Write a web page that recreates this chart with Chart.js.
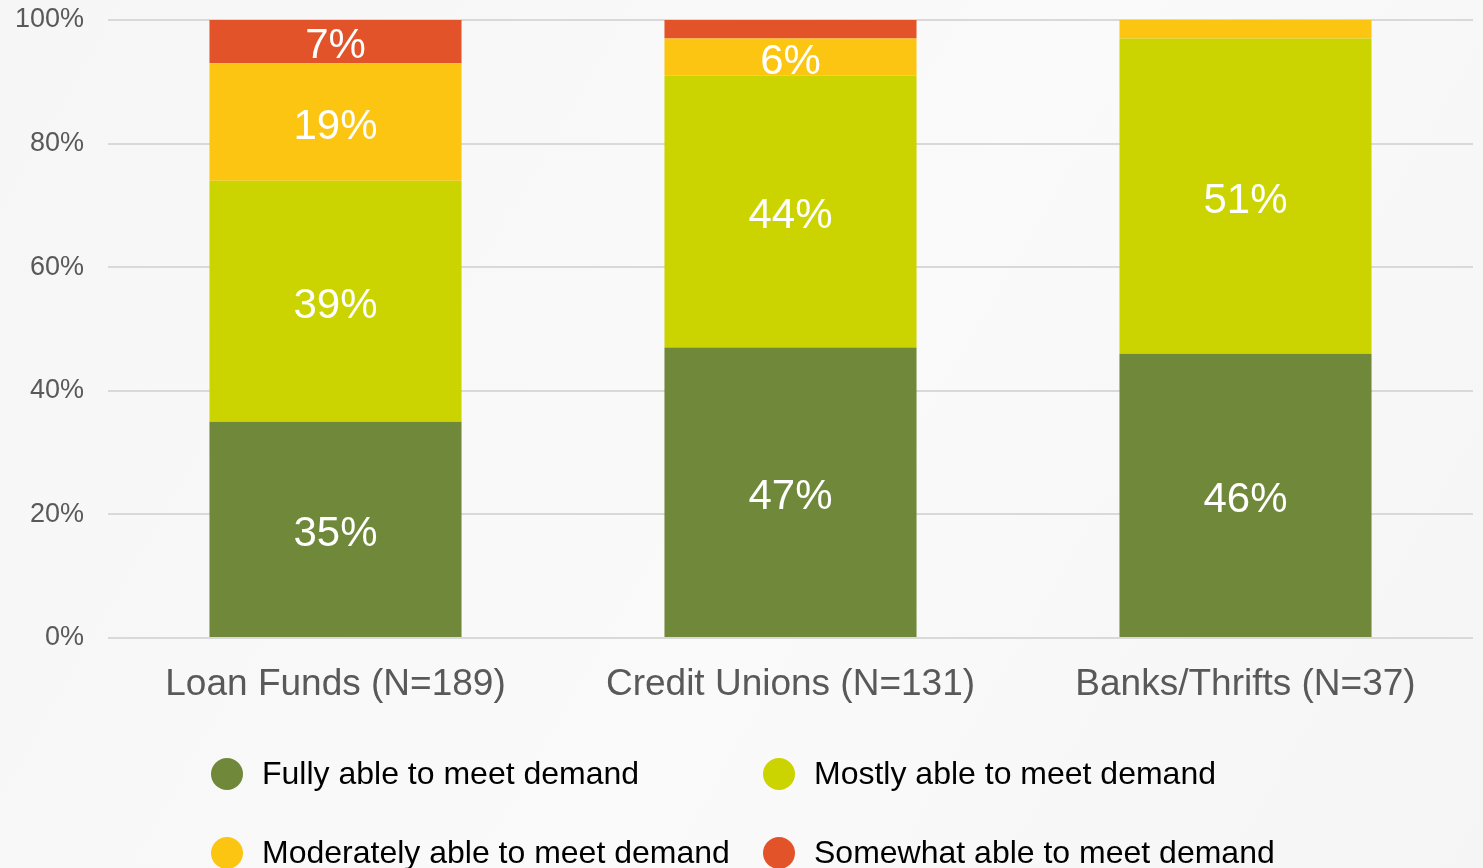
<!DOCTYPE html>
<html>
<head>
<meta charset="utf-8">
<script src="https://cdn.jsdelivr.net/npm/chart.js@4.4.1/dist/chart.umd.min.js"></script>
<style>
    html, body { margin: 0; padding: 0; }
    body {
        width: 1483px;
        height: 868px;
        overflow: hidden;
        position: relative;
        background: linear-gradient(120deg, #f6f6f6 0%, #fafafa 55%, #f5f5f5 100%);
        font-family: "Liberation Sans", Arial, sans-serif;
    }
    #chartWrap { position: absolute; left: 0; top: 0; width: 1483px; height: 868px; }
    #legend {
        position: absolute;
        left: 211px;
        top: 734px;
        display: grid;
        grid-template-columns: 552px auto;
        grid-auto-rows: 79px;
    }
    .legendItem { display: flex; align-items: center; font-size: 32px; color: #000; white-space: nowrap; }
    .legendSwatch { width: 32px; height: 32px; border-radius: 50%; margin-right: 19px; flex: none; }
</style>
</head>
<body>
<div id="chartWrap"><canvas id="chart" width="1483" height="868"></canvas></div>
<div id="legend"></div>
<script>
// DATA

const categories = ["Loan Funds (N=189)", "Credit Unions (N=131)", "Banks/Thrifts (N=37)"];
const seriesNames = [
    "Fully able to meet demand",
    "Mostly able to meet demand",
    "Moderately able to meet demand",
    "Somewhat able to meet demand",
];
const fullyValues = [35, 47, 46];
const mostlyValues = [39, 44, 51];
const moderatelyValues = [19, 6, 3];
const somewhatValues = [7, 3, 0];
const seriesColors = ["#70883a", "#cbd400", "#fcc512", "#e2532a"];
const yTicks = [0, 20, 40, 60, 80, 100];

const seriesValues = [fullyValues, mostlyValues, moderatelyValues, somewhatValues];

// LABELS ON SEGMENTS

const segmentLabels = {
    id: "segmentLabels",
    afterDatasetsDraw(chart) {
        const { ctx } = chart;
        ctx.save();
        ctx.font = "42px 'Liberation Sans', Arial, sans-serif";
        ctx.fillStyle = "#ffffff";
        ctx.textAlign = "center";
        ctx.textBaseline = "middle";
        chart.data.datasets.forEach((dataset, datasetIndex) => {
            const meta = chart.getDatasetMeta(datasetIndex);
            meta.data.forEach((bar, index) => {
                const value = dataset.data[index];
                if (value < 5) return;
                ctx.fillText(value + "%", bar.x, (bar.y + bar.base) / 2 + 5);
            });
        });
        ctx.restore();
    },
};

const data = {
    labels: categories,
    datasets: seriesNames.map((label, i) => ({
        label,
        data: seriesValues[i],
        backgroundColor: seriesColors[i],
        borderWidth: 0,
        barPercentage: 0.554,
        categoryPercentage: 1,
    })),
};

const chart = new Chart(document.getElementById("chart"), {
    type: "bar",
    data,
    plugins: [segmentLabels],
    options: {
        responsive: false,
        animation: false,
        layout: { padding: { top: 20, right: 10, left: 0, bottom: 0 } },
        plugins: {
            legend: { display: false },
            tooltip: { enabled: false },
        },
        scales: {
            x: {
                stacked: true,
                grid: { display: false, drawTicks: false },
                border: { display: false },
                ticks: {
                    padding: 25,
                    color: "#595959",
                    font: { family: "'Liberation Sans', Arial, sans-serif", size: 37 },
                },
                afterFit(scale) {
                    scale.height = 230;
                    scale.paddingLeft = 0;
                    scale.paddingRight = 0;
                },
            },
            y: {
                stacked: true,
                min: 0,
                max: 100,
                afterBuildTicks(scale) {
                    scale.ticks = yTicks.map((value) => ({ value }));
                },
                grid: { color: "#d9d9d9", lineWidth: 2, drawTicks: false },
                border: { display: false },
                ticks: {
                    padding: 24,
                    color: "#595959",
                    font: { family: "'Liberation Sans', Arial, sans-serif", size: 27, lineHeight: 1.05 },
                    callback: (value) => value + "%",
                },
                afterFit(scale) {
                    scale.width = 108;
                    scale.paddingTop = 0;
                    scale.paddingBottom = 0;
                },
            },
        },
    },
});

// LEGEND

const legendContainer = document.getElementById("legend");
seriesNames.forEach((name, i) => {
    const item = document.createElement("div");
    item.className = "legendItem";
    const swatch = document.createElement("span");
    swatch.className = "legendSwatch";
    swatch.style.background = seriesColors[i];
    const text = document.createElement("span");
    text.textContent = name;
    item.appendChild(swatch);
    item.appendChild(text);
    legendContainer.appendChild(item);
});
</script>
</body>
</html>
